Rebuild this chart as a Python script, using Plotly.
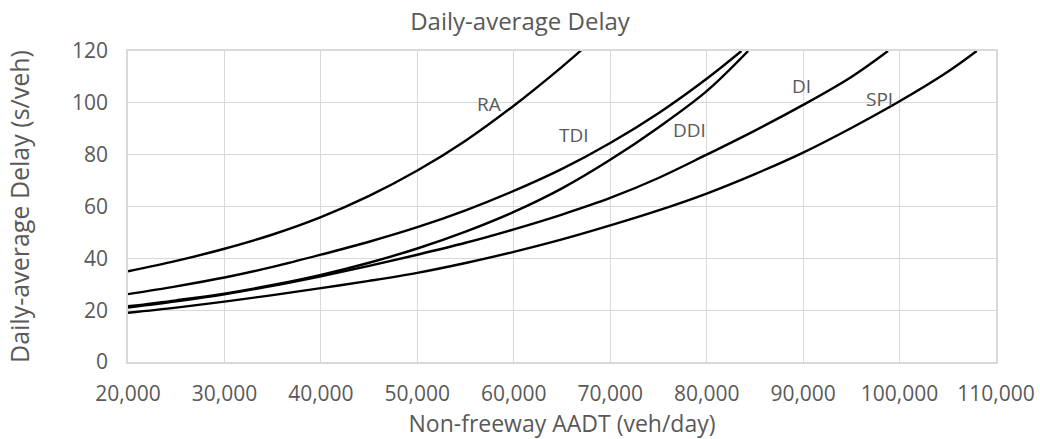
import plotly.graph_objects as go

# Data
ra_x = [20000, 25000, 30000, 35000, 40000, 45000, 50000, 55000, 60000, 65000, 67000]
ra_y = [35.0, 39.0, 43.7, 49.2, 55.9, 64.1, 73.9, 85.4, 98.9, 113.9, 120.3]

tdi_x = [20000, 25000, 30000, 35000, 40000, 45000, 50000, 55000, 60000, 65000, 70000, 75000, 80000, 83600]
tdi_y = [26.2, 29.2, 32.6, 36.7, 41.4, 46.4, 52.0, 58.5, 66.0, 74.5, 84.5, 96.0, 109.3, 120.0]

ddi_x = [20000, 25000, 30000, 35000, 40000, 45000, 50000, 55000, 60000, 65000, 70000, 75000, 80000, 84300]
ddi_y = [21.5, 23.8, 26.4, 29.7, 33.6, 38.3, 43.8, 50.3, 57.9, 67.0, 78.0, 90.5, 104.5, 120.0]

di_x = [20000, 25000, 30000, 35000, 40000, 45000, 50000, 55000, 60000, 65000, 70000, 75000, 80000, 85000, 90000, 95000, 98800]
di_y = [21.0, 23.4, 26.1, 29.4, 33.1, 37.1, 41.4, 46.0, 51.2, 56.9, 63.3, 71.0, 80.0, 89.3, 99.2, 110.0, 120.0]

spi_x = [20000, 25000, 30000, 35000, 40000, 45000, 50000, 55000, 60000, 65000, 70000, 75000, 80000, 85000, 90000, 95000, 100000, 105000, 108000]
spi_y = [19.0, 21.0, 23.3, 25.8, 28.5, 31.3, 34.4, 38.2, 42.5, 47.3, 52.7, 58.5, 65.0, 72.5, 80.8, 90.3, 100.6, 112.0, 120.0]

series = [("RA", ra_x, ra_y), ("TDI", tdi_x, tdi_y), ("DDI", ddi_x, ddi_y),
          ("DI", di_x, di_y), ("SPI", spi_x, spi_y)]

label_names = ["RA", "TDI", "DDI", "DI", "SPI"]
label_x = [57400, 66250, 78200, 89800, 97900]
label_y = [99.6, 87.6, 89.6, 106.5, 101.5]

x_ticks = [20000, 30000, 40000, 50000, 60000, 70000, 80000, 90000, 100000, 110000]
y_ticks = [0, 20, 40, 60, 80, 100, 120]

FONT = "Open Sans"
TXT = "#595959"
GRID = "#d9d9d9"

W, H = 1040, 439

fig = go.Figure()
for name, xs, ys in series:
    fig.add_trace(go.Scatter(x=xs, y=ys, mode="lines", name=name,
                             line=dict(color="black", width=2.4, shape="spline", smoothing=1.0),
                             showlegend=False, hoverinfo="skip", cliponaxis=True))

for n, lx, ly in zip(label_names, label_x, label_y):
    fig.add_annotation(x=lx, y=ly, text=n, showarrow=False,
                       font=dict(family=FONT, size=19, color=TXT))

fig.update_layout(
    width=W, height=H,
    margin=dict(l=128, r=44, t=51, b=77, autoexpand=False),
    paper_bgcolor="white", plot_bgcolor="white",
    font=dict(family=FONT, color=TXT),
    title=dict(text="Daily-average Delay", x=0.5, xanchor="center",
               yref="container", y=1 - 22 / H, yanchor="middle",
               font=dict(family=FONT, size=24, color=TXT)),
)
fig.update_xaxes(range=[20000, 110000], tickvals=x_ticks,
                 ticktext=[f"{v:,}" for v in x_ticks],
                 showgrid=True, gridcolor=GRID, gridwidth=1.3,
                 showline=True, linecolor=GRID, linewidth=1.5, mirror=True,
                 zeroline=False, ticks="", ticklabelstandoff=12,
                 ticklabeloverflow="allow",
                 tickfont=dict(family=FONT, size=21, color=TXT),
                 title=dict(text="Non-freeway AADT (veh/day)", standoff=3,
                            font=dict(family=FONT, size=23, color=TXT)))
fig.update_yaxes(range=[0, 120], tickvals=y_ticks,
                 showgrid=True, gridcolor=GRID, gridwidth=1.3,
                 showline=True, linecolor=GRID, linewidth=1.5, mirror=True,
                 zeroline=False, ticks="", ticklabelstandoff=14,
                 ticklabeloverflow="allow",
                 tickfont=dict(family=FONT, size=21, color=TXT),
                 title=dict(text="Daily-average Delay (s/veh)", standoff=35,
                            font=dict(family=FONT, size=25, color=TXT)))

# remove the default 8px page margin so the figure fills the window exactly
fig.write_html("out.html", config={"displayModeBar": False},
               post_script="document.body.style.margin='0';document.body.style.overflow='hidden';")
